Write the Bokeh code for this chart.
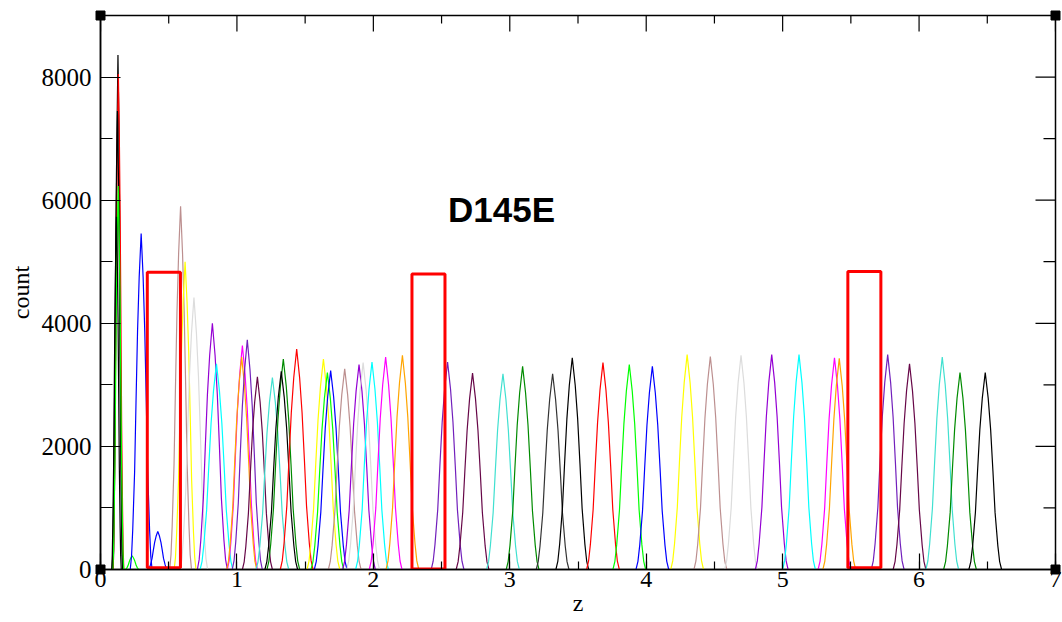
from bokeh.plotting import figure
from bokeh.models import Range1d, SingleIntervalTicker, ColumnDataSource, Label
from bokeh.embed import file_html
from bokeh.resources import INLINE

# Grace default palette
BLACK = "#000000"; RED = "#ff0000"; GREEN = "#00ff00"; BLUE = "#0000ff"
YELLOW = "#ffff00"; BROWN = "#bc8f8f"; GREY = "#dcdcdc"; VIOLET = "#9400d3"
CYAN = "#00ffff"; MAGENTA = "#ff00ff"; ORANGE = "#ffa500"; INDIGO = "#7220bc"
MAROON = "#670748"; TURQUOISE = "#40e0d0"; GREEN4 = "#008b00"

# Umbrella-window histograms: peak position (z), peak count, half base width, colour
peak_centers = [0.128, 0.131, 0.124, 0.130, 0.117, 0.232, 0.298, 0.42,
                0.587, 0.62, 0.685, 0.82, 0.85, 1.04, 1.035, 1.076, 1.15, 1.26,
                1.34, 1.325, 1.438, 1.634, 1.663, 1.687, 1.79, 1.895, 1.925, 1.99,
                2.09, 2.213, 2.544, 2.727, 2.95, 3.094, 3.314, 3.458, 3.683, 3.876,
                4.045, 4.30, 4.47, 4.695, 4.92, 5.12, 5.38, 5.415, 5.77, 5.93,
                6.17, 6.30, 6.485]
peak_heights = [8360, 8050, 7450, 6230, 5730, 220, 5460, 620,
                5900, 5000, 4420, 4000, 3340, 3640, 3450, 3730, 3130, 3120,
                3420, 3220, 3580, 3420, 3200, 3230, 3260, 3330, 3360, 3370,
                3450, 3480, 3370, 3190, 3180, 3300, 3180, 3440, 3360, 3330,
                3300, 3490, 3460, 3480, 3490, 3490, 3440, 3430, 3490, 3340,
                3450, 3200, 3200]
peak_halfwidths = [0.035, 0.04, 0.038, 0.04, 0.035, 0.05, 0.08, 0.07,
                   0.08, 0.08, 0.10, 0.11, 0.12, 0.11, 0.11, 0.11, 0.11, 0.12,
                   0.12, 0.12, 0.12, 0.12, 0.12, 0.12, 0.12, 0.12, 0.12, 0.12,
                   0.12, 0.12, 0.12, 0.12, 0.12, 0.12, 0.12, 0.12, 0.12, 0.12,
                   0.12, 0.12, 0.12, 0.12, 0.12, 0.12, 0.12, 0.12, 0.12, 0.12,
                   0.12, 0.12, 0.12]
peak_colors = [BLACK, RED, BLACK, GREEN, BLACK, GREEN, BLUE, BLUE,
               BROWN, YELLOW, GREY, VIOLET, CYAN, MAGENTA, ORANGE, INDIGO, MAROON, TURQUOISE,
               GREEN4, BLACK, RED, YELLOW, GREEN, BLUE, BROWN, VIOLET, GREY, CYAN,
               MAGENTA, ORANGE, INDIGO, MAROON, TURQUOISE, GREEN4, "#333333", BLACK, RED, GREEN,
               BLUE, YELLOW, BROWN, GREY, VIOLET, CYAN, MAGENTA, ORANGE, INDIGO, MAROON,
               TURQUOISE, GREEN4, BLACK]

# Peak outline read from a typical window (offset in half base widths, fraction of peak count)
profile_offsets = [-1.0, -0.88, -0.77, -0.6, -0.47, -0.33, -0.18, 0.0,
                   0.18, 0.33, 0.47, 0.6, 0.77, 0.88, 1.0]
profile_levels = [0.0, 0.04, 0.12, 0.29, 0.5, 0.71, 0.87, 1.0,
                  0.87, 0.71, 0.5, 0.29, 0.12, 0.04, 0.0]

# Highlight boxes (poorly sampled regions)
box_left = [0.343, 2.283, 5.478]
box_right = [0.586, 2.525, 5.72]
box_bottom = [30, 10, 30]
box_top = [4830, 4800, 4840]

# Axis ticks
x_major_ticks = [0, 1, 2, 3, 4, 5, 6, 7]
x_minor_ticks = [0.5, 1.5, 2.5, 3.5, 4.5, 5.5, 6.5]
y_major_ticks = [0, 2000, 4000, 6000, 8000]
y_minor_ticks = [1000, 3000, 5000, 7000, 9000]

x_label = "z"
y_label = "count"
title_text = "D145E"

X_MAX, Y_MAX = 7, 9000

p = figure(width=1062, height=622, output_backend="svg", toolbar_location=None,
           x_range=Range1d(0, X_MAX), y_range=Range1d(0, Y_MAX),
           min_border_left=100, min_border_right=7, min_border_top=15, min_border_bottom=53,
           x_axis_label=x_label, y_axis_label=y_label)
p.background_fill_color = "white"
p.border_fill_color = "white"
p.outline_line_color = "black"
p.outline_line_width = 1.5
p.xgrid.visible = False
p.ygrid.visible = False

xs = [[c + w * o for o in profile_offsets] for c, w in zip(peak_centers, peak_halfwidths)]
ys = [[h * l for l in profile_levels] for h in peak_heights]
src = ColumnDataSource(dict(xs=xs, ys=ys, color=peak_colors))
p.multi_line(xs="xs", ys="ys", line_color="color", line_width=1.2, source=src)

p.quad(left=box_left, right=box_right, bottom=box_bottom, top=box_top,
       fill_color=None, line_color="#ff0000", line_width=3)

p.add_layout(Label(x=2.94, y=5850, text=title_text, text_font="Liberation Sans",
                   text_font_style="bold", text_font_size="35px", text_align="center",
                   text_baseline="alphabetic", text_color="black"))

FONT = "Liberation Serif"

def style_axis(ax, major_in, minor_in):
    ax.major_tick_in = major_in
    ax.major_tick_out = 0
    ax.minor_tick_in = minor_in
    ax.minor_tick_out = 0
    ax.axis_line_color = "black"
    ax.axis_line_width = 1.5
    ax.major_tick_line_color = "black"
    ax.minor_tick_line_color = "black"
    ax.major_tick_line_width = 1.2
    ax.minor_tick_line_width = 1.2
    ax.major_label_text_font = FONT
    ax.major_label_text_color = "black"
    ax.axis_label_text_font = FONT
    ax.axis_label_text_font_style = "normal"
    ax.axis_label_text_color = "black"

xa = p.xaxis[0]
xa.ticker = SingleIntervalTicker(interval=1, num_minor_ticks=2)
style_axis(xa, 16, 8)
xa.major_label_text_font_size = "24px"
xa.major_label_standoff = 2
xa.axis_label_text_font_size = "24px"
xa.axis_label_standoff = 0

ya = p.yaxis[0]
ya.ticker = SingleIntervalTicker(interval=2000, num_minor_ticks=2)
style_axis(ya, 20, 12)
ya.major_label_text_font_size = "25px"
ya.major_label_standoff = 9
ya.axis_label_text_font_size = "24px"
ya.axis_label_standoff = 5

# Mirrored inward ticks on the top and right edges (Grace style)
px_per_x = 955 / X_MAX
px_per_y = 554 / Y_MAX
top_x = x_major_ticks + x_minor_ticks
top_len = [16 / px_per_y] * len(x_major_ticks) + [8 / px_per_y] * len(x_minor_ticks)
p.segment(x0=top_x, y0=[Y_MAX] * len(top_x), x1=top_x,
          y1=[Y_MAX - l for l in top_len], line_color="black", line_width=1.2)
right_y = y_major_ticks + y_minor_ticks
right_len = [20 / px_per_x] * len(y_major_ticks) + [12 / px_per_x] * len(y_minor_ticks)
p.segment(x0=[X_MAX] * len(right_y), y0=right_y, x1=[X_MAX - l for l in right_len],
          y1=right_y, line_color="black", line_width=1.2)

# Grace corner markers
p.scatter(x=[0, X_MAX, 0, X_MAX], y=[0, 0, Y_MAX, Y_MAX], marker="square", size=9,
          fill_color="black", line_color="black", level="overlay")

open("out.html", "w").write(file_html(p, INLINE))
